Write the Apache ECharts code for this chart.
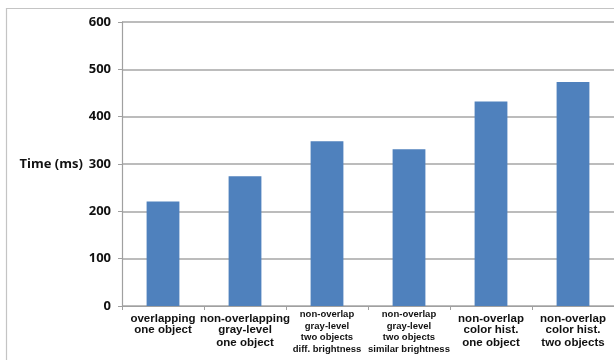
<!DOCTYPE html>
<html>
<head>
<meta charset="utf-8">
<script src="https://cdn.jsdelivr.net/npm/echarts@6/dist/echarts.min.js"></script>
<style>
  html, body { margin: 0; padding: 0; background: #fff; }
  #chart { width: 614px; height: 360px; }
</style>
</head>
<body>
<div id="chart"></div>
<script>
// Category labels (line breaks kept as drawn under each bar)
const categories = [
  'overlapping\none object',
  'non-overlapping\ngray-level\none object',
  'non-overlap\ngray-level\ntwo objects\ndiff. brightness',
  'non-overlap\ngray-level\ntwo objects\nsimilar brightness',
  'non-overlap\ncolor hist.\none object',
  'non-overlap\ncolor hist.\ntwo objects'
];
// Processing time per configuration, in milliseconds
const timeMs = [221, 274, 348, 331, 432, 473];
// Labels set in the smaller type
const smallLabels = [2, 3];
const yTicks = [0, 100, 200, 300, 400, 500, 600];

const chart = echarts.init(document.getElementById('chart'));

function richLabel(value, index) {
  const lines = value.split('\n');
  if (smallLabels.indexOf(index) >= 0) {
    return lines.map(l => '{s|' + l + '}').join('\n');
  }
  return lines.map((l, i) => (i === 0 ? '{f|' : '{b|') + l + '}').join('\n');
}

chart.setOption({
  animation: false,
  backgroundColor: '#ffffff',
  graphic: [{
    type: 'rect',
    left: 4, top: 6,
    shape: { width: 700, height: 400 },
    style: { fill: 'none', stroke: '#c4c4c4', lineWidth: 1.2 },
    silent: true
  }],
  grid: { left: 122, top: 22, width: 497, height: 284, containLabel: false },
  xAxis: {
    type: 'category',
    data: categories,
    axisLine: { lineStyle: { color: '#a0a0a0', width: 1.2 } },
    axisTick: { show: true, length: 4, lineStyle: { color: '#a0a0a0' } },
    axisLabel: {
      interval: 0,
      margin: 3,
      color: '#111',
      formatter: richLabel,
      rich: {
        f: { fontFamily: 'Liberation Sans', fontWeight: 'bold', fontSize: 11.5, lineHeight: 14, padding: [6, 0, 0, 0], color: '#111' },
        b: { fontFamily: 'Liberation Sans', fontWeight: 'bold', fontSize: 11.5, lineHeight: 13, color: '#111' },
        s: { fontFamily: 'Liberation Sans', fontWeight: 'bold', fontSize: 9.5, lineHeight: 11.5, color: '#111' }
      }
    }
  },
  yAxis: {
    type: 'value',
    min: yTicks[0],
    max: yTicks[yTicks.length - 1],
    interval: yTicks[1] - yTicks[0],
    name: 'Time (ms)',
    nameLocation: 'middle',
    nameRotate: 0,
    nameGap: 37,
    nameTextStyle: { fontFamily: 'Open Sans', fontWeight: 'bold', fontSize: 13, color: '#111', align: 'right' },
    axisLine: { show: true, lineStyle: { color: '#a0a0a0', width: 1.2 } },
    axisTick: { show: true, length: 4, lineStyle: { color: '#a0a0a0' } },
    axisLabel: { margin: 11, fontFamily: 'Open Sans', fontWeight: 'bold', fontSize: 13, color: '#111' },
    splitLine: { lineStyle: { color: '#a6a6a6', width: 1.5 } }
  },
  series: [{
    type: 'bar',
    data: timeMs,
    barWidth: '40%',
    itemStyle: { color: '#4f81bd' }
  }]
});
</script>
</body>
</html>
